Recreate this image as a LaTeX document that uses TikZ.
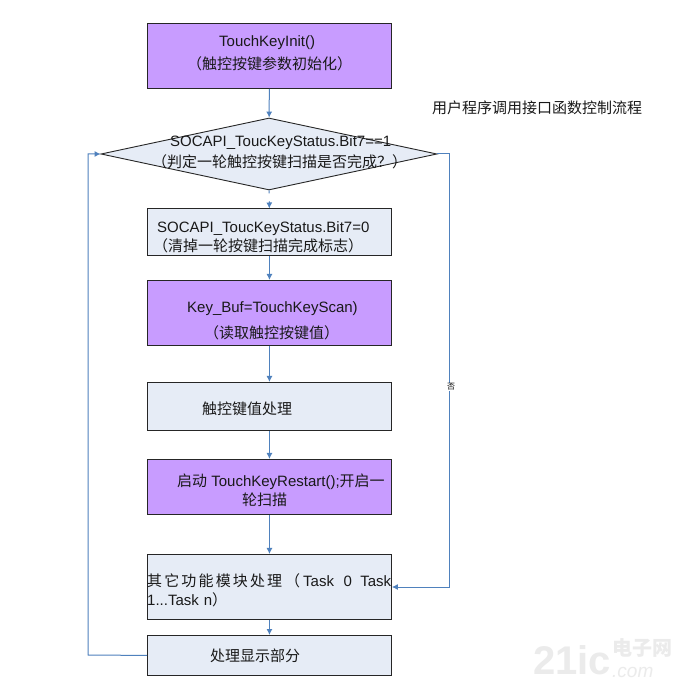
\documentclass[tikz,border=0pt]{standalone}
\usepackage{fontspec}
\setmainfont{Liberation Sans}
\newfontfamily\cjk{Noto Sans CJK SC}
\usetikzlibrary{arrows.meta,shapes.geometric}
\definecolor{boxblue}{HTML}{E6ECF6}
\definecolor{boxpurple}{HTML}{C89CFF}
\definecolor{linkblue}{HTML}{4F81BD}
\tikzset{
  x=1pt,y=-1pt,
  flowbox/.style={draw=black!85,line width=0.9pt,minimum width=244pt,inner sep=0pt,anchor=north west},
  bluebox/.style={flowbox,fill=boxblue},
  purplebox/.style={flowbox,fill=boxpurple},
  label/.style={font=\fontsize{15}{19}\selectfont,text=black!90,inner sep=0pt,anchor=west},
  link/.style={draw=linkblue,line width=1pt,-{Latex[length=6pt,width=6pt]}},
}
\newcommand{\cn}[1]{{\cjk #1}}
\begin{document}
\begin{tikzpicture}
\useasboundingbox (0,0) rectangle (686,684);
\fill[white] (0,0) rectangle (686,684);
% boxes
\node[purplebox,minimum height=65pt] (init) at (147,23) {};
\node[draw=black!85,line width=0.9pt,fill=boxblue,diamond,aspect=4.67,minimum width=336pt,minimum height=72pt,inner sep=0pt] (status) at (269,154) {};
\node[bluebox,minimum height=47pt] (clear) at (147,208.5) {};
\node[purplebox,minimum height=65pt] (scan) at (147,280) {};
\node[bluebox,minimum height=48pt] (handle) at (147,382) {};
\node[purplebox,minimum height=55pt] (restart) at (147,459) {};
\node[bluebox,minimum height=65pt] (tasks) at (147,554) {};
\node[bluebox,minimum height=40pt] (display) at (147,635) {};
\coordinate (noelbowa) at (449,154);
\coordinate (noelbowb) at (449,587);
\coordinate (backa) at (88,655);
\coordinate (backb) at (88,154);
% connectors
\draw[link] (init) -- (status);
\draw[link,dash pattern=on 3pt off 8pt on 12pt] (status) -- (clear);
\draw[link] (clear) -- (scan);
\draw[link] (scan) -- (handle);
\draw[link] (handle) -- (restart);
\draw[link] (restart) -- (tasks);
\draw[link] (tasks) -- (display);
\draw[link] (status.east) -- (noelbowa) -- (noelbowb) -- (tasks.east |- noelbowb);
\draw[link] (display.west) -- (backa) -- (backb) -- (status.west);
% texts
\node[label] (t1) at (219,43) {TouchKeyInit()};
\node[label] (t2) at (187,64) {\cn{（触控按键参数初始化）}};
\node[label] (t3) at (170,143) {SOCAPI\_ToucKeyStatus.Bit7==1};
\node[label] (t4) at (152,162) {\cn{（判定一轮触控按键扫描是否完成？）}};
\node[label] (t5) at (157,229) {SOCAPI\_ToucKeyStatus.Bit7=0};
\node[label] (t6) at (153,246) {\cn{（清掉一轮按键扫描完成标志）}};
\node[label] (t7) at (187,309) {Key\_Buf=TouchKeyScan)};
\node[label] (t8) at (204,333) {\cn{（读取触控按键值）}};
\node[label] (t9) at (202,409) {\cn{触控键值处理}};
\node[label] (t10) at (177,482) {\cn{启动} TouchKeyRestart();\cn{开启一}};
\node[label] (t11) at (242,500) {\cn{轮扫描}};
\node[label,text width=250pt,anchor=north west] (t12) at (147,573) {\makebox[135pt][s]{\cn{其\hfill 它\hfill 功\hfill 能\hfill 模\hfill 块\hfill 处\hfill 理}}\hspace{3pt}\cn{（}\hspace{3pt}Task\hspace{9.5pt}0\hspace{8.5pt}Task\par 1...Task n\cn{）}};
\node[label] (t13) at (210,656) {\cn{处理显示部分}};
\node[label] (title) at (432,108) {\cn{用户程序调用接口函数控制流程}};
\node[font=\fontsize{8}{9}\selectfont,inner sep=0.5pt,fill=white] (no) at (451,387) {\cn{否}};
\node[font=\fontsize{40}{42}\selectfont\bfseries,text=black!8,inner sep=0pt,anchor=west] (mark1) at (533,660) {21ic};
\node[font=\fontsize{20}{21}\selectfont\bfseries,text=black!8,inner sep=0pt,anchor=west] (mark2) at (612,648) {\cn{电子网}};
\node[font=\fontsize{19}{20}\selectfont\itshape,text=black!8,inner sep=0pt,anchor=west] (mark3) at (612,672) {.com};
\end{tikzpicture}
\end{document}
